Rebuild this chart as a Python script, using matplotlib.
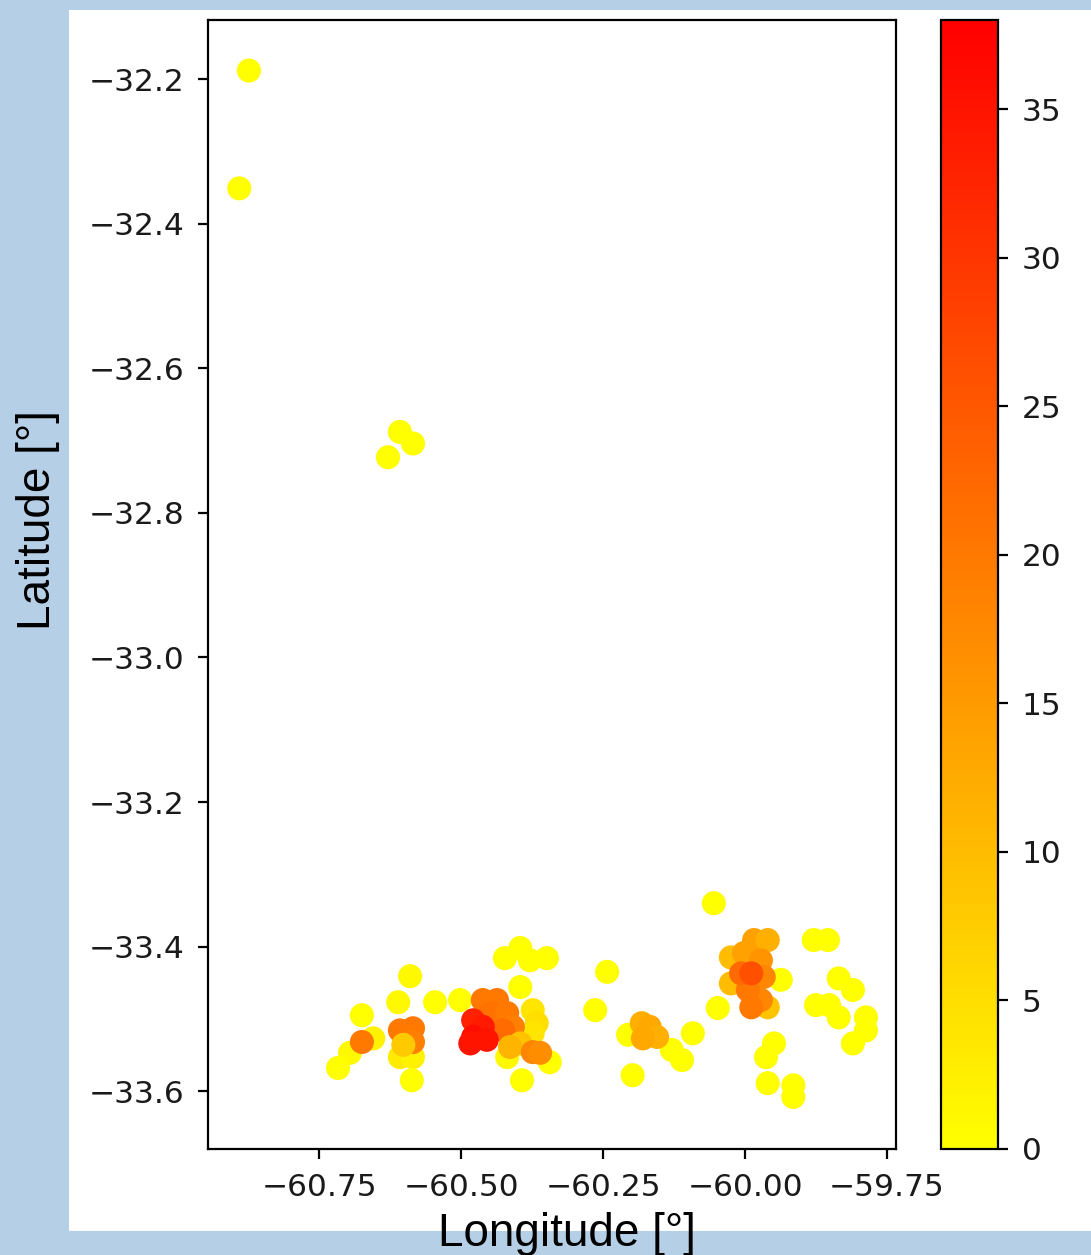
import matplotlib
matplotlib.use('Agg')  # Backend ohne GUI
import matplotlib.pyplot as plt
from matplotlib.patches import Rectangle

# === Daten: Laengengrad, Breitengrad, Wert ===
laenge = [
    -60.874, -60.891, -60.608, -60.585, -60.629,
    # linke Gruppe
    -60.590, -60.611, -60.546, -60.502, -60.675, -60.655, -60.696, -60.717,
    -60.608, -60.585, -60.587, -60.675, -60.608, -60.585, -60.585, -60.602,
    # mittlere Gruppe (rot)
    -60.396, -60.423, -60.379, -60.349, -60.396, -60.243, -60.264,
    -60.419, -60.344, -60.393, -60.374, -60.367, -60.374,
    -60.462, -60.437, -60.449, -60.419, -60.409, -60.426,
    -60.479, -60.462, -60.479, -60.455, -60.484,
    -60.396, -60.414, -60.374, -60.361,
    # Gruppe bei -60.17
    -60.206, -60.129, -60.111, -60.092, -60.198,
    -60.182, -60.168, -60.155, -60.180,
    # rechte Gruppe
    -60.055, -60.048, -59.937, -59.949, -59.963, -59.960, -59.915, -59.915,
    -60.025, -60.025, -59.984, -59.960, -60.002, -59.972, -59.960,
    -59.967, -59.972, -59.989, -59.995, -60.007, -59.989,
    # ganz rechts
    -59.879, -59.854, -59.835, -59.810, -59.875, -59.852, -59.835,
    -59.787, -59.787, -59.810,
]
breite = [
    -32.188, -32.351, -32.688, -32.704, -32.723,
    -33.441, -33.477, -33.477, -33.474, -33.495, -33.527, -33.547, -33.568,
    -33.553, -33.553, -33.585, -33.532, -33.516, -33.513, -33.532, -33.536,
    -33.402, -33.416, -33.419, -33.416, -33.456, -33.435, -33.488,
    -33.553, -33.560, -33.585, -33.488, -33.506, -33.520,
    -33.474, -33.474, -33.492, -33.492, -33.511, -33.516,
    -33.502, -33.511, -33.525, -33.529, -33.534,
    -33.534, -33.539, -33.546, -33.547,
    -33.522, -33.543, -33.557, -33.520, -33.578,
    -33.506, -33.511, -33.525, -33.527,
    -33.340, -33.485, -33.446, -33.534, -33.553, -33.589, -33.592, -33.608,
    -33.415, -33.451, -33.391, -33.391, -33.409, -33.419, -33.484,
    -33.442, -33.474, -33.484, -33.460, -33.437, -33.437,
    -33.391, -33.391, -33.444, -33.460, -33.481, -33.481, -33.498,
    -33.498, -33.516, -33.534,
]
wert = [
    0, 0, 0, 0, 0,
    1, 1, 0, 0, 0, 2, 1, 0,
    3, 2, 0, 20, 20, 20, 19, 8,
    0, 0, 0, 0, 0, 0, 0,
    1, 0, 0, 4, 5, 4,
    20, 20, 21, 20, 19, 22,
    33, 34, 36, 35, 35,
    9, 11, 18, 17,
    0, 0, 0, 0, 0,
    12, 13, 12, 13,
    0, 0, 0, 0, 0, 0, 0, 0,
    10, 10, 14, 12, 14, 16, 9,
    18, 18, 20, 20, 22, 26,
    0, 0, 0, 0, 0, 0, 0,
    0, 0, 0,
]

farbe_hintergrund = '#b5cfe6'
schrift = 22.5

# === Grafik erstellen ===
fig = plt.figure(figsize=(10.91, 12.55), dpi=100, facecolor=farbe_hintergrund)

# weisse Flaeche des eingefuegten Bildes (hinter den Achsen)
fig.patches.append(Rectangle((0.0632, 0.0191), 0.9368, 0.9729, transform=fig.transFigure,
                             facecolor='white', edgecolor='none', zorder=-1))

ax = fig.add_axes([0.1907, 0.0845, 0.6306, 0.8996])
cax = fig.add_axes([0.8625, 0.0845, 0.0522, 0.8996])

punkte = ax.scatter(laenge, breite, c=wert, cmap='autumn_r', vmin=0, vmax=38,
                    s=300, linewidths=0)

ax.set_xlim(-60.946, -59.734)
ax.set_ylim(-33.680, -32.118)
ax.set_xticks([-60.75, -60.50, -60.25, -60.00, -59.75])
ax.set_yticks([-32.2, -32.4, -32.6, -32.8, -33.0, -33.2, -33.4, -33.6])

cb = fig.colorbar(punkte, cax=cax)
cb.set_ticks([0, 5, 10, 15, 20, 25, 30, 35])
cb.outline.set_linewidth(1.6)

for a in (ax, cax):
    a.tick_params(labelsize=schrift, length=7.2, width=1.6, pad=10, labelcolor='#1a1a1a')
for s in ax.spines.values():
    s.set_linewidth(1.6)

# Achsenbeschriftungen (auf der Folie, in Arial-aehnlicher Schrift)
fig.text(38 / 1091, 1 - 520 / 1255, 'Latitude [°]', rotation=90, ha='center', va='center',
         fontsize=33, family='Liberation Sans', color='black')
fig.text(567 / 1091, 1 - 1246 / 1255, 'Longitude [°]', ha='center', va='baseline',
         fontsize=33, family='Liberation Sans', color='black')

plt.savefig('out.png', dpi=100, facecolor=fig.get_facecolor())
plt.close()
print("Grafik gespeichert: out.png")
